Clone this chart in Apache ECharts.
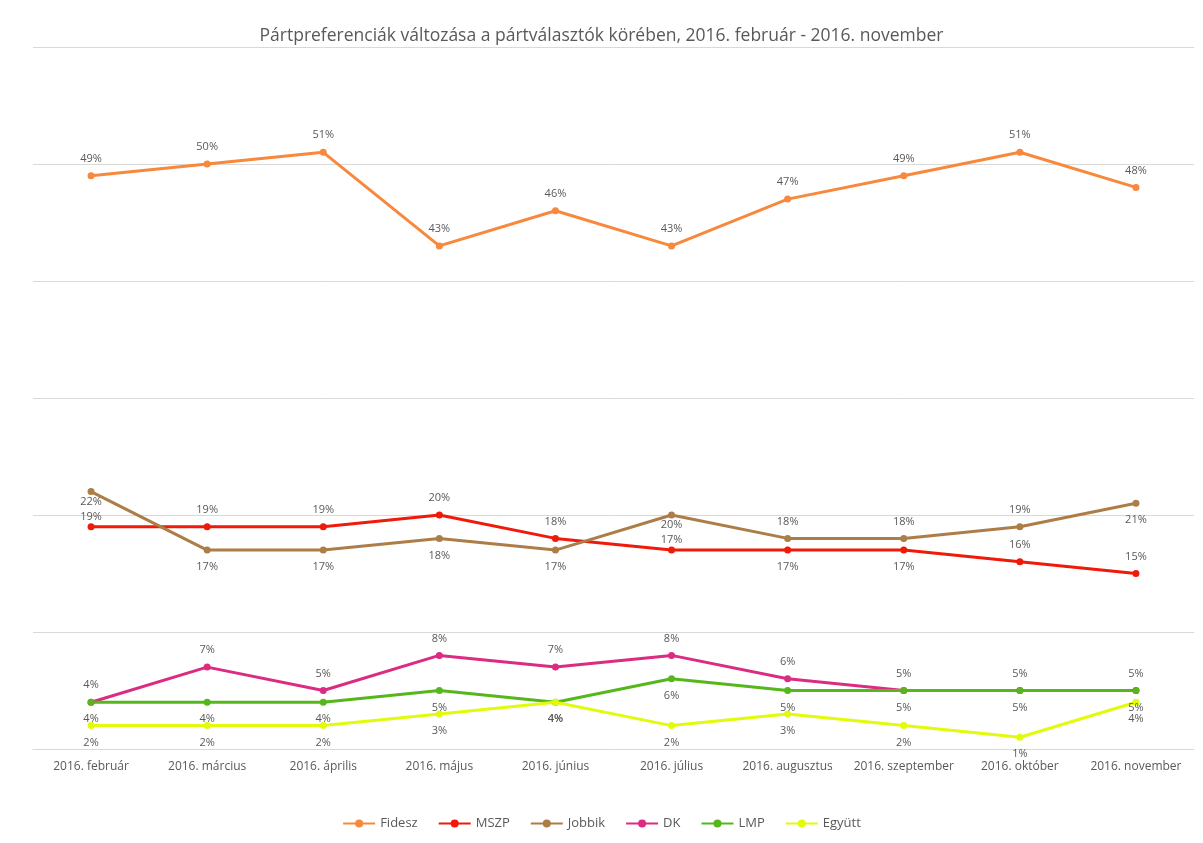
<!DOCTYPE html>
<html><head><meta charset="utf-8">
<script src="https://cdn.jsdelivr.net/npm/echarts@6/dist/echarts.min.js"></script>
<style>html,body{margin:0;padding:0;background:#fff}#c{width:1203px;height:843px}</style>
</head><body><div id="c"></div>
<script>
const categories = ['2016. február','2016. március','2016. április','2016. május','2016. június','2016. július','2016. augusztus','2016. szeptember','2016. október','2016. november'];
const fidesz = [49,50,51,43,46,43,47,49,51,48];
const mszp   = [19,19,19,20,18,17,17,17,16,15];
const jobbik = [22,17,17,18,17,20,18,18,19,21];
const dk     = [4,7,5,8,7,8,6,5,5,5];
const lmp    = [4,4,4,5,4,6,5,5,5,5];
const egyutt = [2,2,2,3,4,2,3,2,1,4];
const yTicks = [0,10,20,30,40,50,60];

// label placement per point (t = top, b = bottom, T/B = tight top/bottom)
const posFidesz = 'tttttttttt';
const posMszp   = 'TttttTbbtt';
const posJobbik = 'BbbbbBtttb';
const posDk     = 'tttttttttt';
const posLmp    = 'bbbbbbbbbb';
const posEgyutt = 'bbbbbbbbbb';

const font = 'Open Sans, Liberation Sans, sans-serif';
function mk(name, vals, pos, color) {
  return {
    name, type: 'line', symbol: 'circle', symbolSize: 7,
    lineStyle: { width: 3, color }, itemStyle: { color },
    data: vals.map((v, i) => {
      const c = pos[i];
      const tight = c === 'T' || c === 'B';
      return {
        value: v,
        label: { position: c.toLowerCase() === 't' ? 'top' : 'bottom', distance: tight ? 1 : 8 }
      };
    }),
    label: { show: true, formatter: p => p.value + '%', color: '#595959', fontSize: 11, fontFamily: font, distance: 8 },
    emphasis: { disabled: true }
  };
}
const chart = echarts.init(document.getElementById('c'));
chart.setOption({
  animation: false,
  title: { text: 'Pártpreferenciák változása a pártválasztók körében, 2016. február - 2016. november', left: 'center', top: 22,
    textStyle: { fontSize: 17.5, fontWeight: 'normal', color: '#595959', fontFamily: font } },
  legend: { bottom: 8, itemWidth: 32, itemHeight: 10, itemGap: 20,
    textStyle: { color: '#595959', fontSize: 13, fontFamily: font },
    data: ['Fidesz','MSZP','Jobbik','DK','LMP','Együtt'] },
  grid: { left: 33, right: 9, top: 47, bottom: 94 },
  xAxis: { type: 'category', data: categories, boundaryGap: true,
    axisLine: { show: true, lineStyle: { color: '#d9d9d9' } }, axisTick: { show: false },
    axisLabel: { color: '#595959', fontSize: 12, fontFamily: font, margin: 12, interval: 0 } },
  yAxis: { type: 'value', min: yTicks[0], max: yTicks[yTicks.length-1], interval: 10,
    axisLabel: { show: false }, axisLine: { show: false }, axisTick: { show: false },
    splitLine: { lineStyle: { color: '#d9d9d9' } } },
  series: [
    mk('Fidesz', fidesz, posFidesz, '#F7883C'),
    mk('MSZP', mszp, posMszp, '#F01A0A'),
    mk('Jobbik', jobbik, posJobbik, '#AD7D47'),
    mk('DK', dk, posDk, '#DB2C82'),
    mk('LMP', lmp, posLmp, '#55B71B'),
    mk('Együtt', egyutt, posEgyutt, '#E2FB0C')
  ]
});
</script></body></html>
